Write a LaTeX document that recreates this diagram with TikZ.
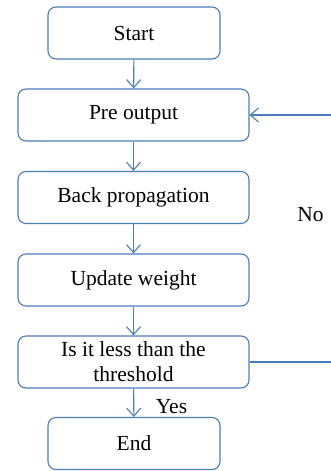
\documentclass[tikz,border=0pt]{standalone}
\usepackage{fontspec}
\setmainfont{Liberation Serif}
\usetikzlibrary{arrows.meta}
\definecolor{flowblue}{HTML}{4A7EBB}
\begin{document}
\begin{tikzpicture}[x=1pt,y=-1pt,
  box/.style={draw=flowblue,line width=1.1pt,rounded corners=8pt,inner sep=0pt,
    align=center,font=\fontsize{21.5}{25}\selectfont},
  wide/.style={box,minimum width=231pt,minimum height=52pt},
  narrow/.style={box,minimum width=172pt,minimum height=52pt},
  link/.style={draw=flowblue,line width=1.1pt,-{Straight Barb[length=8pt,width=14pt,line width=1.1pt]}},
  lbl/.style={font=\fontsize{21.5}{25}\selectfont}]
\useasboundingbox (0,0) rectangle (331,471);
\clip (0,0) rectangle (331,471);
\node[narrow] (start) at (134,33) {Start};
\node[wide] (pre) at (133.5,115) {Pre output};
\node[wide] (back) at (133.5,197.5) {Back propagation};
\node[wide] (upd) at (133.5,280) {Update weight};
\node[wide] (test) at (133.5,362) {Is it less than the\\threshold};
\node[narrow] (end) at (134,443.5) {End};
\coordinate (corner) at (333,362);
\draw[link] (start) -- (pre);
\draw[link] (pre) -- (back);
\draw[link] (back) -- (upd);
\draw[link] (upd) -- (test);
\draw[link] (test) -- (end);
\draw[link] (test.east) -- (corner) |- (pre.east);
\node[lbl] (no) at (310.5,215) {No};
\node[lbl] (yes) at (171.5,407) {Yes};
\end{tikzpicture}
\end{document}
